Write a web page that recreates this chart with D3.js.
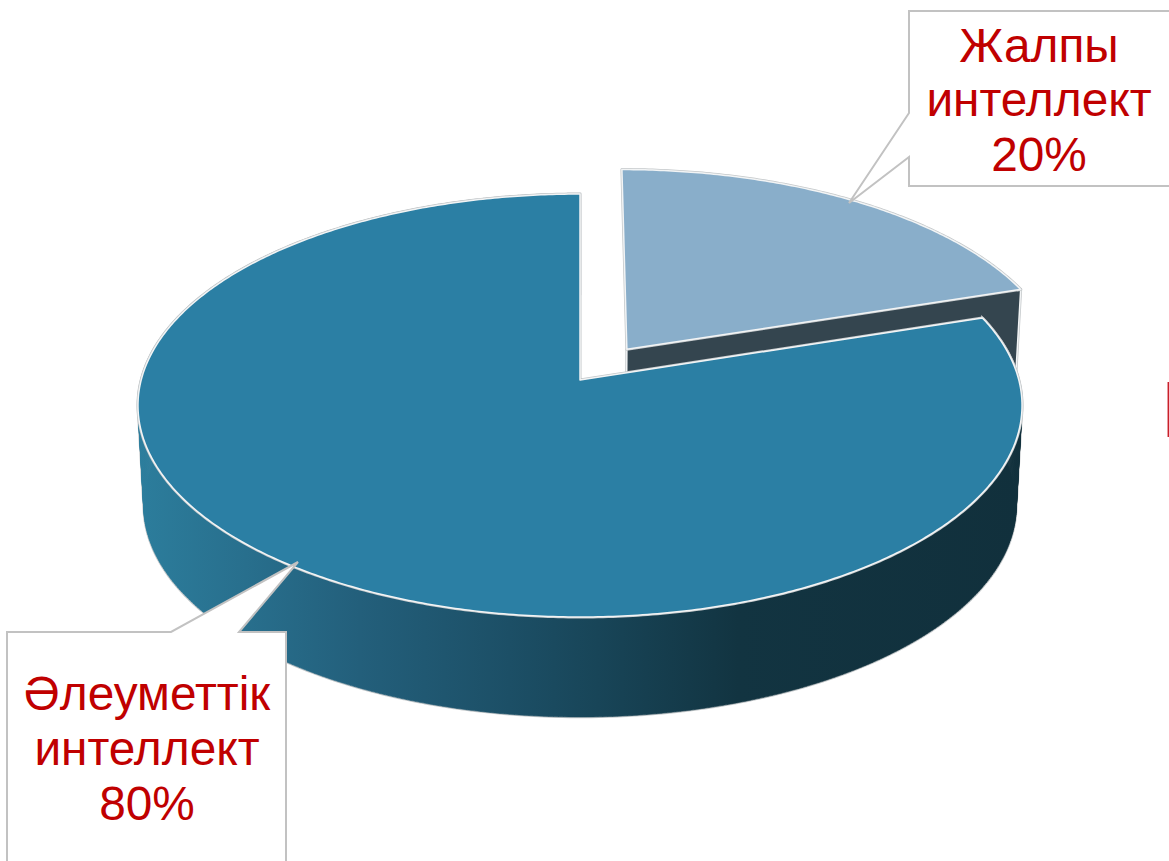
<!DOCTYPE html>
<html>
<head>
<meta charset="utf-8">
<script src="https://cdn.jsdelivr.net/npm/d3@7"></script>
<style>
  html, body { margin: 0; padding: 0; background: #fff; overflow: hidden; }
  text { font-family: "Liberation Sans", Arial, sans-serif; fill: #c00000; text-anchor: middle; }
</style>
</head>
<body>
<div id="vis"></div>
<script>
const FRAME_WIDTH = 1169;
const FRAME_HEIGHT = 861;

// data
const CATEGORIES = ["Жалпы интеллект", "Әлеуметтік интеллект"];
const VALUES = [20, 80];
const EXPLODE = [0.185, 0];
const LABEL_LINES = [["Жалпы", "интеллект", "20%"], ["Әлеуметтік", "интеллект", "80%"]];

// pie plane -> screen, perspective of the tilted disc
const APEX = {x: 580, y: 380};
const RX = 438.8, RY = 208.4, PERSP = 0.1206;
const DEPTH = 100, BOTTOM_SHRINK = 0.987;

function project(u, v, lower) {
  const w = 1 + PERSP * v;
  const sx = lower ? BOTTOM_SHRINK : 1;
  return [APEX.x + sx * RX * u / w, APEX.y + (lower ? DEPTH : 0) - RY * v / w];
}

const pie = d3.pie().sort(null).value(d => d)(VALUES);

function rim(slice, offset, lower) {
  const n = Math.ceil((slice.endAngle - slice.startAngle) / 0.01);
  return d3.range(n + 1).map(i => {
    const a = slice.startAngle + (slice.endAngle - slice.startAngle) * i / n;
    return project(offset[0] + Math.sin(a), offset[1] + Math.cos(a), lower);
  });
}

function offsetOf(slice, i) {
  const mid = (slice.startAngle + slice.endAngle) / 2;
  return [EXPLODE[i] * Math.sin(mid), EXPLODE[i] * Math.cos(mid)];
}

const line = d3.line();
const closed = pts => line(pts) + "Z";

const svg = d3.select("#vis").append("svg")
  .attr("width", FRAME_WIDTH)
  .attr("height", FRAME_HEIGHT)
  .style("display", "block");

// side wall shading
const grad = svg.append("defs").append("linearGradient")
  .attr("id", "wall")
  .attr("gradientUnits", "userSpaceOnUse")
  .attr("x1", 140).attr("x2", 1020).attr("y1", 0).attr("y2", 0);
[[0, "#2c7d9c"], [0.12, "#286f8d"], [0.25, "#235f7b"], [0.42, "#1c4f66"],
 [0.52, "#184558"], [0.68, "#123441"], [1, "#11303c"]].forEach(s => {
  grad.append("stop").attr("offset", s[0]).attr("stop-color", s[1]);
});

function outlined(d, fill) {
  svg.append("path").attr("d", d).attr("fill", fill)
    .attr("stroke", "#c4c8ca").attr("stroke-width", 3).attr("stroke-linejoin", "round");
  svg.append("path").attr("d", d).attr("fill", fill)
    .attr("stroke", "#f2f4f5").attr("stroke-width", 1.5).attr("stroke-linejoin", "round");
}

// small slice: cut face first, then its top
const small = pie[0], big = pie[1];
const off = offsetOf(small, 0);
const smallRim = rim(small, off, false);
const corner = smallRim[smallRim.length - 1];
const smallApex = project(off[0], off[1], false);
const cornerLow = project(off[0] + Math.sin(small.endAngle), off[1] + Math.cos(small.endAngle), true);
const apexLow = project(off[0], off[1], true);

outlined(closed([smallApex, corner, cornerLow, apexLow]), "#34454f");
outlined(closed([smallApex].concat(smallRim)), "#89aeca");

// big slice: wall as a strip of quads so the silhouette stays straight at the sides
const bigTop = rim(big, [0, 0], false);
const bigLow = rim(big, [0, 0], true);
const wallPath = d3.range(bigTop.length - 1)
  .map(i => closed([bigTop[i], bigTop[i + 1], bigLow[i + 1], bigLow[i]]))
  .join("");
svg.append("path").attr("d", wallPath)
  .attr("fill", "none").attr("stroke", "#c4c8ca").attr("stroke-width", 2.5);
svg.append("path").attr("d", wallPath)
  .attr("fill", "url(#wall)").attr("stroke", "url(#wall)").attr("stroke-width", 0.6);
outlined(closed([project(0, 0, false)].concat(bigTop)), "#2b7fa4");

// callouts
const callouts = [
  {box: [[909, 11], [1172, 11], [1172, 186], [909, 186], [909, 157], [849, 203], [909, 113]],
   cx: 1039, baselines: [62, 116, 171]},
  {box: [[7, 632], [171, 632], [298, 562], [239, 632], [286, 632], [286, 866], [7, 866]],
   cx: 147, baselines: [710, 765, 820]}
];

callouts.forEach((c, i) => {
  svg.append("path").attr("d", closed(c.box))
    .attr("fill", "#fff").attr("stroke", "#c2c2c2").attr("stroke-width", 2);
  svg.selectAll(null).data(LABEL_LINES[i]).enter().append("text")
    .attr("x", c.cx)
    .attr("y", (d, j) => c.baselines[j])
    .attr("font-size", 47.8)
    .text(d => d);
});

// red sliver at the right edge of the picture
svg.append("line")
  .attr("x1", 1168.3).attr("x2", 1168.3).attr("y1", 382).attr("y2", 437)
  .attr("stroke", "#c8202a").attr("stroke-width", 1.5);
</script>
</body>
</html>
